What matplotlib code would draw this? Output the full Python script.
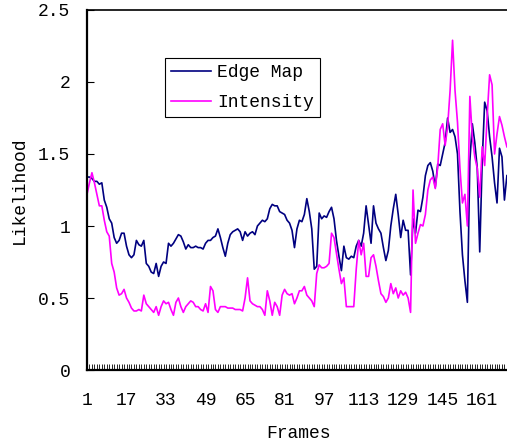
import matplotlib
matplotlib.use("Agg")
import matplotlib.pyplot as plt
import numpy as np

frames = list(range(1, 172))

edge_map = [
    1.34, 1.34, 1.33, 1.31, 1.31, 1.29, 1.30, 1.18, 1.13, 1.05,
    1.02, 0.92, 0.88, 0.90, 0.95, 0.95, 0.86, 0.80, 0.78, 0.80,
    0.90, 0.87, 0.86, 0.90, 0.74, 0.72, 0.68, 0.67, 0.74, 0.65,
    0.72, 0.75, 0.74, 0.88, 0.86, 0.88, 0.91, 0.94, 0.93, 0.89,
    0.84, 0.87, 0.85, 0.85, 0.86, 0.85, 0.85, 0.84, 0.88, 0.90,
    0.90, 0.92, 0.93, 0.98, 0.92, 0.85, 0.79, 0.88, 0.94, 0.96,
    0.97, 0.98, 0.96, 0.90, 0.96, 0.93, 0.95, 0.96, 0.94, 1.00,
    1.02, 1.04, 1.03, 1.05, 1.12, 1.15, 1.14, 1.14, 1.10, 1.09,
    1.08, 1.04, 1.02, 0.97, 0.85, 0.98, 1.04, 1.03, 1.08, 1.19,
    1.10, 0.98, 0.70, 0.72, 1.09, 1.05, 1.07, 1.06, 1.10, 1.13,
    1.05, 0.90, 0.79, 0.69, 0.86, 0.78, 0.77, 0.79, 0.78, 0.86,
    0.90, 0.86, 0.95, 1.14, 1.01, 0.88, 1.14, 1.02, 0.98, 0.95,
    0.85, 0.76, 0.83, 1.00, 1.12, 1.22, 1.08, 0.92, 1.04, 0.97,
    0.97, 0.66, 1.05, 0.95, 1.11, 1.10, 1.20, 1.35, 1.42, 1.44,
    1.38, 1.27, 1.43, 1.42, 1.50, 1.58, 1.75, 1.65, 1.67, 1.62,
    1.50, 1.10, 0.80, 0.62, 0.47, 1.45, 1.71, 1.58, 1.40, 0.82,
    1.45, 1.86, 1.80, 1.62, 1.48, 1.30, 1.16, 1.54, 1.48, 1.18,
    1.35,
]

intensity = [
    1.22, 1.30, 1.37, 1.30, 1.22, 1.14, 1.14, 1.04, 0.96, 0.93,
    0.74, 0.68, 0.57, 0.52, 0.53, 0.56, 0.50, 0.47, 0.43, 0.41,
    0.41, 0.42, 0.41, 0.52, 0.46, 0.44, 0.42, 0.40, 0.44, 0.38,
    0.44, 0.48, 0.46, 0.47, 0.42, 0.38, 0.47, 0.50, 0.44, 0.40,
    0.44, 0.46, 0.48, 0.47, 0.44, 0.44, 0.42, 0.41, 0.46, 0.40,
    0.58, 0.55, 0.42, 0.40, 0.44, 0.44, 0.44, 0.43, 0.43, 0.43,
    0.42, 0.42, 0.42, 0.41, 0.50, 0.64, 0.48, 0.46, 0.45, 0.44,
    0.44, 0.42, 0.38, 0.55, 0.48, 0.38, 0.47, 0.44, 0.38, 0.52,
    0.56, 0.53, 0.52, 0.53, 0.46, 0.50, 0.55, 0.55, 0.58, 0.52,
    0.50, 0.48, 0.44, 0.67, 0.73, 0.71, 0.71, 0.72, 0.74, 0.95,
    0.92, 0.81, 0.70, 0.60, 0.64, 0.44, 0.44, 0.44, 0.44, 0.70,
    0.90, 0.80, 0.88, 0.65, 0.65, 0.78, 0.80, 0.72, 0.62, 0.53,
    0.51, 0.47, 0.50, 0.60, 0.53, 0.57, 0.50, 0.55, 0.52, 0.54,
    0.50, 0.40, 1.25, 0.88, 0.95, 1.01, 1.00, 1.08, 1.25, 1.32,
    1.34, 1.26, 1.41, 1.67, 1.71, 1.56, 1.69, 1.94, 2.29, 1.94,
    1.72, 1.40, 1.16, 1.22, 1.00, 1.90, 1.62, 1.48, 1.40, 1.20,
    1.55, 1.42, 1.76, 2.05, 1.98, 1.50, 1.64, 1.76, 1.70, 1.62,
    1.55,
]

xtick_labels = ["1", "17", "33", "49", "65", "81", "97", "113", "129", "145", "161"]
ytick_values = [0, 0.5, 1, 1.5, 2, 2.5]
ytick_labels = ["0", "0.5", "1", "1.5", "2", "2.5"]

FONT = "Liberation Mono"
FS = 13

W, H = 507, 444
fig = plt.figure(figsize=(W / 100, H / 100), dpi=100)
ax = fig.add_axes([87 / W, 1 - 370 / H, 422 / W, 360 / H])

ax.plot(frames, edge_map, color="#000080", lw=1.2, label="Edge Map")
ax.plot(frames, intensity, color="#FF00FF", lw=1.2, label="Intensity")

ax.set_xlim(1, 1 + 422 / 2.47)
ax.set_ylim(0, 2.5)

ax.set_xticks([int(t) for t in xtick_labels])
ax.set_xticklabels(xtick_labels, fontfamily=FONT, fontsize=FS)
ax.set_xticks(frames, minor=True)
ax.tick_params(axis="x", which="both", direction="in", length=4, width=0.6, pad=16)

ax.set_yticks(ytick_values)
ax.set_yticklabels(ytick_labels, fontfamily=FONT, fontsize=FS)
ax.tick_params(axis="y", direction="in", length=5, width=0.8, pad=12)

for s in ["left", "bottom"]:
    ax.spines[s].set_linewidth(1.6)
ax.spines["top"].set_linewidth(1.2)
ax.spines["right"].set_visible(False)

ax.set_xlabel("Frames", fontfamily=FONT, fontsize=FS, labelpad=11)
ax.set_ylabel("Likelihood", fontfamily=FONT, fontsize=FS, labelpad=7)

leg = ax.legend(loc="upper left", bbox_to_anchor=((165 - 87) / 422, (370 - 58) / 360),
                borderaxespad=0,
                prop={"family": FONT, "size": FS}, frameon=True, fancybox=False,
                edgecolor="black", framealpha=1, handlelength=2.2, borderpad=0.35,
                labelspacing=0.7, handletextpad=0.35)
leg.get_frame().set_linewidth(0.8)

fig.savefig("out.png", dpi=100)
